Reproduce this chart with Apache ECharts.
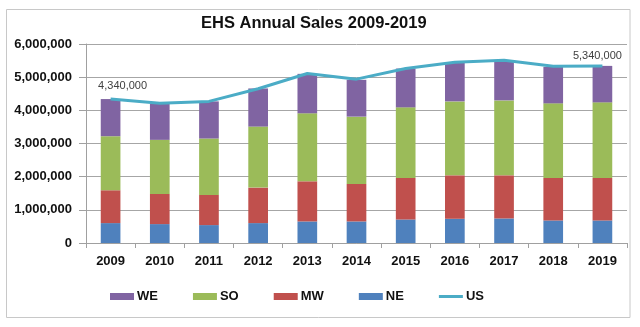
<!DOCTYPE html>
<html>
<head>
<meta charset="utf-8">
<script src="https://cdn.jsdelivr.net/npm/echarts@6/dist/echarts.min.js"></script>
<style>
  html, body { margin: 0; padding: 0; background: #fff; }
  #chart { width: 640px; height: 327px; }
</style>
</head>
<body>
<div id="chart"></div>
<script>
// Existing home sales by region, 2009-2019
var years = ['2009', '2010', '2011', '2012', '2013', '2014', '2015', '2016', '2017', '2018', '2019'];
var salesNE = [600000, 570000, 540000, 600000, 650000, 650000, 710000, 730000, 740000, 680000, 680000];
var salesMW = [990000, 910000, 910000, 1070000, 1210000, 1130000, 1250000, 1310000, 1300000, 1280000, 1280000];
var salesSO = [1630000, 1630000, 1700000, 1840000, 2050000, 2030000, 2130000, 2230000, 2260000, 2250000, 2280000];
var salesWE = [1120000, 1090000, 1120000, 1150000, 1190000, 1110000, 1170000, 1160000, 1180000, 1100000, 1100000];
var salesUS = [4340000, 4210000, 4270000, 4650000, 5110000, 4940000, 5260000, 5450000, 5510000, 5330000, 5340000];
var yTicks = { min: 0, max: 6000000, step: 1000000 };

var FONT = '"Liberation Sans", Arial, sans-serif';
function fmt(v) { return Number(v).toLocaleString('en-US'); }

// Only the first and last totals carry a value label
var usLabelOffsets = { 0: [12, -2], 10: [-5, 2] };
var usData = salesUS.map(function (v, i) {
  if (usLabelOffsets[i]) {
    return {
      value: v,
      label: {
        show: true, position: 'top', distance: 6, offset: usLabelOffsets[i],
        formatter: function (p) { return fmt(p.value); },
        fontFamily: FONT, fontSize: 11, color: '#404040'
      }
    };
  }
  return v;
});

function barSeries(name, data, color) {
  return {
    name: name, type: 'bar', stack: 'region', data: data, barWidth: '40%',
    itemStyle: { color: color }, emphasis: { disabled: true }
  };
}

var chart = echarts.init(document.getElementById('chart'), null, { renderer: 'canvas' });
chart.setOption({
  animation: false,
  backgroundColor: '#ffffff',
  title: {
    text: 'EHS Annual Sales 2009-2019',
    left: 201, top: 15, padding: 0,
    textStyle: { fontFamily: FONT, fontSize: 16.5, fontWeight: 'bold', color: '#111111' }
  },
  graphic: [{
    type: 'rect', silent: true, z: -1,
    shape: { x: 6.5, y: 9.5, width: 623.5, height: 308 },
    style: { fill: 'none', stroke: '#c8c8c8', lineWidth: 1 }
  }],
  grid: { left: 86, right: 13, top: 44, bottom: 84, containLabel: false },
  legend: {
    left: 110, top: 290, padding: 0, itemGap: 35, itemWidth: 24, itemHeight: 7,
    data: [
      { name: 'WE', icon: 'rect' },
      { name: 'SO', icon: 'rect' },
      { name: 'MW', icon: 'rect' },
      { name: 'NE', icon: 'rect' },
      { name: 'US', icon: 'path://M0,0H24V3H0Z' }
    ],
    textStyle: { fontFamily: FONT, fontSize: 13, fontWeight: 'bold', color: '#111111', padding: [0, 0, 0, -2] },
    selectedMode: false
  },
  xAxis: {
    type: 'category', data: years, boundaryGap: true,
    axisLine: { lineStyle: { color: '#a0a0a0', width: 1 } },
    axisTick: { show: true, alignWithLabel: false, length: 5, lineStyle: { color: '#a0a0a0' } },
    axisLabel: { fontFamily: FONT, fontSize: 13, fontWeight: 'bold', color: '#111111', margin: 12 }
  },
  yAxis: {
    type: 'value', min: yTicks.min, max: yTicks.max, interval: yTicks.step,
    axisLine: { show: true, lineStyle: { color: '#a0a0a0', width: 1 } },
    axisTick: { show: true, inside: false, length: 7, lineStyle: { color: '#a0a0a0' } },
    splitLine: { show: true, lineStyle: { color: '#a6a6a6', width: 1 } },
    axisLabel: {
      fontFamily: FONT, fontSize: 13, fontWeight: 'bold', color: '#111111', margin: 14,
      formatter: fmt
    }
  },
  series: [
    barSeries('NE', salesNE, '#4f81bd'),
    barSeries('MW', salesMW, '#c0504d'),
    barSeries('SO', salesSO, '#9bbb59'),
    barSeries('WE', salesWE, '#8064a2'),
    {
      name: 'US', type: 'line', data: usData, symbol: 'circle', symbolSize: 0, showSymbol: true,
      lineStyle: { color: '#4bacc6', width: 3 }, itemStyle: { color: '#4bacc6' },
      emphasis: { disabled: true }, z: 5
    }
  ]
});
</script>
</body>
</html>
